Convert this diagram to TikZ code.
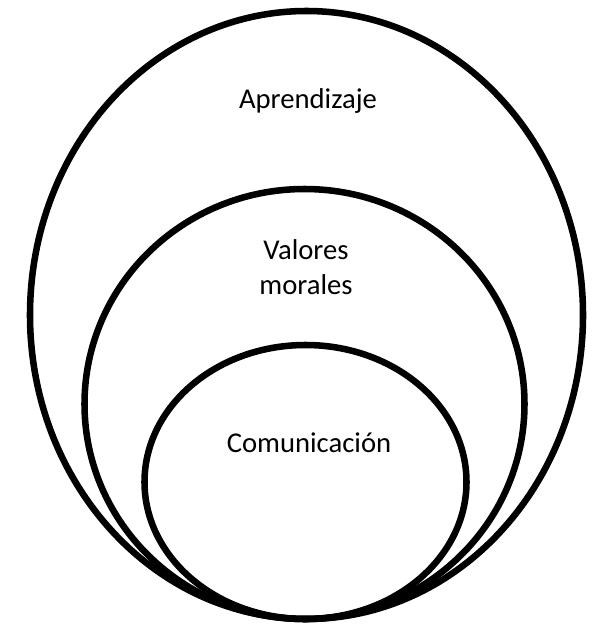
\documentclass[tikz,border=0pt]{standalone}
\usepackage{fontspec}
\setmainfont{Carlito}
\begin{document}
\begin{tikzpicture}
        [
            x = 0.75pt, y = -0.75pt,
            ring/.style = {draw = black, line width = 4.9pt},
            label/.style = {font = \fontsize{21.5}{26.5}\selectfont, align = center, inner sep = 0pt}
        ]
            \useasboundingbox (0,0) rectangle (598,625);
            \coordinate (outer) at (306.5,315);
            \coordinate (middle) at (304.5,404);
            \coordinate (inner) at (305.5,482);
            \draw [ring] (outer) ellipse [x radius = 276.5, y radius = 304];
            \draw [ring] (middle) ellipse [x radius = 220, y radius = 215];
            \draw [ring] (inner) ellipse [x radius = 161, y radius = 137];
            \node [label] (aprendizaje) at (308,101) {Aprendizaje};
            \node [label] (valores) at (306,267) {Valores\\morales};
            \node [label] (comunicacion) at (309,443) {Comunicación};
        \end{tikzpicture}
\end{document}
